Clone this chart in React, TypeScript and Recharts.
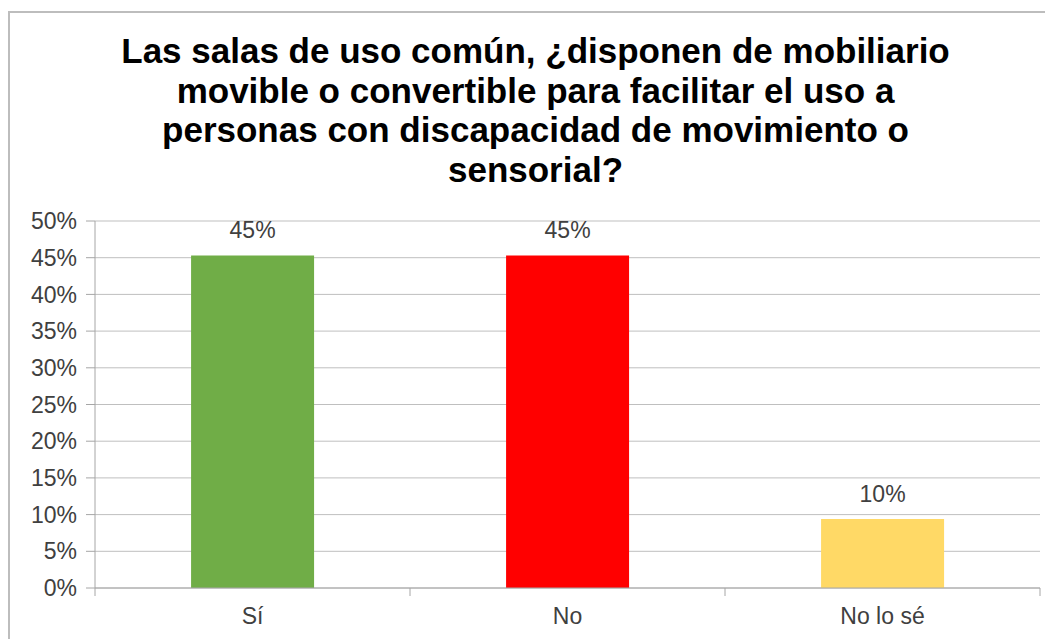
import { BarChart, Bar, XAxis, YAxis, CartesianGrid, Cell, LabelList } from 'recharts';

// Answers to the survey question (share of respondents, %)
const categories = ['Sí', 'No', 'No lo sé'];
const shares = [45.3, 45.3, 9.4];
const shareLabels = ['45%', '45%', '10%'];
const barColors = ['#70AD47', '#FF0000', '#FFD966'];
const yTicks = [0, 5, 10, 15, 20, 25, 30, 35, 40, 45, 50];

const titleLines = [
  'Las salas de uso común, ¿disponen de mobiliario',
  'movible o convertible para facilitar el uso a',
  'personas con discapacidad de movimiento o',
  'sensorial?',
];

const data = categories.map((c, i) => ({ name: c, value: shares[i], label: shareLabels[i] }));

const FONT = '"Liberation Sans", Arial, sans-serif';
const TEXT = '#404040';
const AXIS = '#a6a6a6';
const BAND = 315; // plot width / 3 categories

function CategoryTick(props: any) {
  const { x, y, payload, index } = props;
  const top = y - 20;
  return (
    <g>
      <line x1={x + BAND / 2} y1={top} x2={x + BAND / 2} y2={top + 8} stroke={AXIS} />
      {index === 0 && <line x1={x - BAND / 2} y1={top} x2={x - BAND / 2} y2={top + 8} stroke={AXIS} />}
      <text x={x} y={y} dy="0.71em" textAnchor="middle" fill={TEXT} fontSize={23} fontFamily={FONT}>
        {payload.value}
      </text>
    </g>
  );
}

export default function App() {
  return (
    <div style={{ position: 'relative', width: 1045, height: 631, overflow: 'hidden', background: '#fff' }}>
      <div
        style={{
          position: 'absolute',
          left: 0,
          top: 3,
          width: 1100,
          height: 700,
          border: '2px solid #bdbdbd',
          boxSizing: 'border-box',
        }}
      />
      <div
        style={{
          position: 'absolute',
          left: 0,
          top: 23,
          width: 1055,
          textAlign: 'center',
          fontFamily: FONT,
          fontWeight: 'bold',
          fontSize: 35,
          lineHeight: '39.5px',
          color: '#000',
        }}
      >
        {titleLines.map((l) => (
          <div key={l}>{l}</div>
        ))}
      </div>
      <div style={{ position: 'absolute', left: 0, top: 0 }}>
        <BarChart
          width={1045}
          height={631}
          data={data}
          margin={{ top: 213, right: 13, left: 0, bottom: 0 }}
          barCategoryGap="30.5%"
        >
          <CartesianGrid vertical={false} stroke="#bfbfbf" />
          <XAxis
            dataKey="name"
            height={51}
            axisLine={{ stroke: AXIS }}
            tickLine={{ stroke: 'none' }}
            tickSize={8}
            tickMargin={12}
            tick={<CategoryTick />}
            interval={0}
          />
          <YAxis
            width={87}
            domain={[0, 50]}
            ticks={yTicks}
            interval={0}
            axisLine={{ stroke: AXIS }}
            tickLine={{ stroke: AXIS }}
            tickSize={9}
            tickMargin={9}
            tickFormatter={(v) => `${v}%`}
            tick={{ fill: TEXT, fontSize: 23, fontFamily: FONT }}
          />
          <Bar dataKey="value" isAnimationActive={false}>
            {data.map((d, i) => (
              <Cell key={d.name} fill={barColors[i]} />
            ))}
            <LabelList
              dataKey="label"
              position="top"
              offset={17}
              fill={TEXT}
              fontSize={23}
              fontFamily={FONT}
            />
          </Bar>
        </BarChart>
      </div>
    </div>
  );
}
